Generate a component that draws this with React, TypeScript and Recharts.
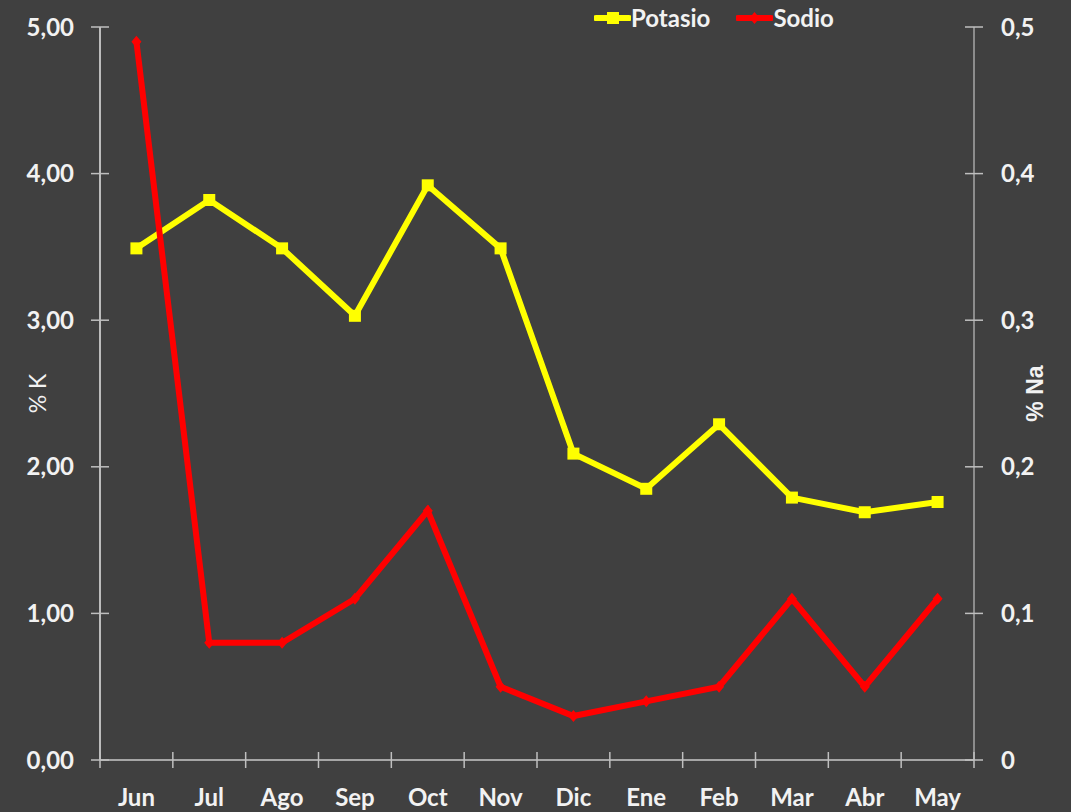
import React from 'react';
import { LineChart, Line, XAxis, YAxis } from 'recharts';

const months = ['Jun', 'Jul', 'Ago', 'Sep', 'Oct', 'Nov', 'Dic', 'Ene', 'Feb', 'Mar', 'Abr', 'May'];
const potasio = [3.49, 3.82, 3.49, 3.03, 3.92, 3.49, 2.09, 1.85, 2.29, 1.79, 1.69, 1.76];
const sodio = [0.49, 0.08, 0.08, 0.11, 0.17, 0.05, 0.03, 0.04, 0.05, 0.11, 0.05, 0.11];
const kTicks = [0, 1, 2, 3, 4, 5];
const naTicks = [0, 0.1, 0.2, 0.3, 0.4, 0.5];

const data = months.map((m, i) => ({ month: m, potasio: potasio[i], sodio: sodio[i] }));

const W = 1071;
const H = 812;
const MARGIN = { top: 27, right: 37, bottom: 12, left: 40 };
const Y_W = 60;
const X_H = 40;
const PLOT_W = W - MARGIN.left - MARGIN.right - Y_W * 2;
const BAND = PLOT_W / months.length;

const BG = '#404040';
const TXT = '#f2f2f2';
const YELLOW = '#ffff00';
const RED = '#ff0000';
const FONT = 'Lato, "Open Sans", sans-serif';

const fmtK = (v: number) => v.toFixed(2).replace('.', ',');
const fmtNa = (v: number) => (v === 0 ? '0' : v.toFixed(1).replace('.', ','));

const LeftTick = (props: any) => {
  const { x, y, payload } = props;
  const ax = x + 26;
  return (
    <g>
      <line x1={ax - 9} x2={ax + 9} y1={y} y2={y} stroke="#bfbfbf" strokeWidth={1.5} />
      <text x={x} y={y} dy="0.36em" textAnchor="end" fill={TXT} fontFamily={FONT} fontWeight={700} fontSize={24}>
        {fmtK(payload.value)}
      </text>
    </g>
  );
};

const RightTick = (props: any) => {
  const { x, y, payload } = props;
  const ax = x - 27;
  return (
    <g>
      <line x1={ax - 9} x2={ax + 9} y1={y} y2={y} stroke="#bfbfbf" strokeWidth={1.5} />
      <text x={x} y={y} dy="0.36em" textAnchor="start" fill={TXT} fontFamily={FONT} fontWeight={700} fontSize={24}>
        {fmtNa(payload.value)}
      </text>
    </g>
  );
};

const BottomTick = (props: any) => {
  const { x, y, payload, index } = props;
  const ay = y - 37;
  return (
    <g>
      <line x1={x - BAND / 2} x2={x - BAND / 2} y1={ay - 8} y2={ay + 8} stroke="#bfbfbf" strokeWidth={1.5} />
      {index === months.length - 1 && (
        <line x1={x + BAND / 2} x2={x + BAND / 2} y1={ay - 8} y2={ay + 8} stroke="#bfbfbf" strokeWidth={1.5} />
      )}
      <text x={x} y={y} dy="0.36em" textAnchor="middle" fill={TXT} fontFamily={FONT} fontWeight={700} fontSize={24}>
        {payload.value}
      </text>
    </g>
  );
};

const SquareDot = (props: any) => {
  const { cx, cy, index } = props;
  return <rect key={`sq-${index}`} x={cx - 6} y={cy - 6} width={12} height={12} fill={YELLOW} />;
};

const DiamondDot = (props: any) => {
  const { cx, cy, index } = props;
  return (
    <polygon
      key={`dm-${index}`}
      points={`${cx},${cy - 6} ${cx + 5},${cy} ${cx},${cy + 6} ${cx - 5},${cy}`}
      fill={RED}
    />
  );
};

const legendItems = [
  { name: 'Potasio', color: YELLOW, square: true },
  { name: 'Sodio', color: RED, square: false },
];

const ChartLegend = () => (
  <div style={{ position: 'absolute', top: 4, left: 594, display: 'flex', alignItems: 'center' }}>
    {legendItems.map((it) => (
      <div key={it.name} style={{ display: 'flex', alignItems: 'center', marginRight: 26 }}>
        <svg width={37} height={16}>
          <line x1={2} x2={35} y1={8} y2={8} stroke={it.color} strokeWidth={6} strokeLinecap="round" />
          {it.square ? (
            <rect x={13} y={2} width={12} height={12} fill={it.color} />
          ) : (
            <polygon points="18.5,2 23.5,8 18.5,14 13.5,8" fill={it.color} />
          )}
        </svg>
        <span style={{ color: TXT, fontFamily: FONT, fontWeight: 700, fontSize: 24, lineHeight: '28px' }}>
          {it.name}
        </span>
      </div>
    ))}
  </div>
);

export default function App() {
  return (
    <div style={{ position: 'absolute', left: 0, top: 0, width: W, height: H, background: BG }}>
      <LineChart width={W} height={H} data={data} margin={MARGIN}>
        <XAxis
          dataKey="month"
          height={X_H}
          padding={{ left: BAND / 2, right: BAND / 2 }}
          axisLine={{ stroke: '#a6a6a6', strokeWidth: 2 }}
          tickLine={false}
          tickSize={0}
          tickMargin={37}
          tick={<BottomTick />}
          interval={0}
        />
        <YAxis
          yAxisId="k"
          orientation="left"
          width={Y_W}
          domain={[0, 5]}
          ticks={kTicks}
          axisLine={{ stroke: '#e6e6e6', strokeWidth: 1.5 }}
          tickLine={false}
          tickSize={0}
          tickMargin={26}
          tick={<LeftTick />}
          label={({ viewBox }: any) => (
            <text
              x={viewBox.x - 2}
              y={viewBox.y + viewBox.height / 2}
              transform={`rotate(-90, ${viewBox.x - 2}, ${viewBox.y + viewBox.height / 2})`}
              textAnchor="middle"
              dy="0.36em"
              fill={TXT}
              fontFamily={FONT}
              fontSize={23}
            >
              % K
            </text>
          )}
        />
        <YAxis
          yAxisId="na"
          orientation="right"
          width={Y_W}
          domain={[0, 0.5]}
          ticks={naTicks}
          axisLine={{ stroke: '#a6a6a6', strokeWidth: 1.5 }}
          tickLine={false}
          tickSize={0}
          tickMargin={27}
          tick={<RightTick />}
          label={({ viewBox }: any) => (
            <text
              x={viewBox.x + 61}
              y={viewBox.y + viewBox.height / 2}
              transform={`rotate(-90, ${viewBox.x + 61}, ${viewBox.y + viewBox.height / 2})`}
              textAnchor="middle"
              dy="0.36em"
              fill={TXT}
              fontFamily='"Liberation Sans", Arial, sans-serif'
              fontWeight={700}
              fontSize={23}
            >
              % Na
            </text>
          )}
        />
        <Line
          yAxisId="k"
          dataKey="potasio"
          name="Potasio"
          stroke={YELLOW}
          strokeWidth={6}
          dot={<SquareDot />}
          activeDot={false}
          isAnimationActive={false}
        />
        <Line
          yAxisId="na"
          dataKey="sodio"
          name="Sodio"
          stroke={RED}
          strokeWidth={6}
          dot={<DiamondDot />}
          activeDot={false}
          isAnimationActive={false}
        />
      </LineChart>
      <ChartLegend />
    </div>
  );
}
